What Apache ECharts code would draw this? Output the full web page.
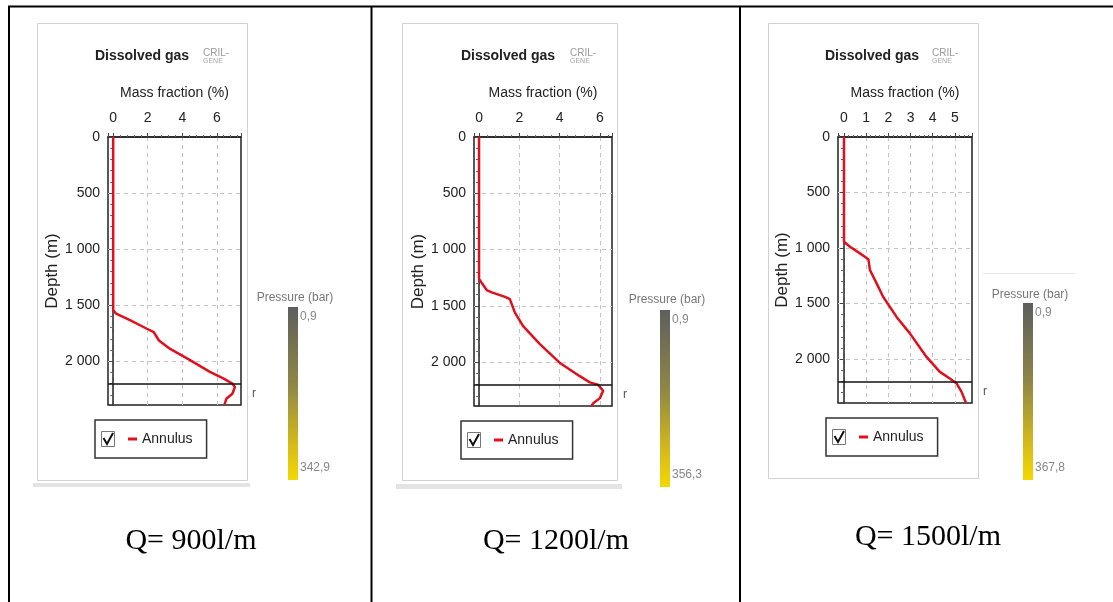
<!DOCTYPE html>
<html><head><meta charset="utf-8">
<script src="https://cdn.jsdelivr.net/npm/echarts@6/dist/echarts.min.js"></script>
<style>html,body{margin:0;padding:0;background:#fff}#c{width:1113px;height:602px}</style>
</head><body><div id="c"></div>
<script>
// ---- data ----
const captions = ['Q= 900l/m', 'Q= 1200l/m', 'Q= 1500l/m'];
const seriesName = 'Annulus';
const titleText = 'Dissolved gas';
const xName = 'Mass fraction (%)';
const yName = 'Depth (m)';
const pressureTitle = 'Pressure (bar)';

const depth1 = [0, 1545, 1575, 1635, 1710, 1740, 1815, 1890, 1990, 2095, 2155, 2200, 2230, 2290, 2335, 2385];
const mass1  = [0, 0, 0.17, 1.0, 1.95, 2.35, 2.65, 3.3, 4.45, 5.6, 6.4, 6.9, 7.05, 6.9, 6.55, 6.45];

const depth2 = [0, 1262, 1360, 1380, 1420, 1440, 1560, 1680, 1840, 2005, 2125, 2180, 2200, 2255, 2320, 2365, 2390];
const mass2  = [0, 0, 0.38, 0.63, 1.29, 1.53, 1.78, 2.19, 3.02, 4.0, 5.0, 5.5, 5.9, 6.16, 6.0, 5.67, 5.58];

const depth3 = [0, 943, 988, 1048, 1100, 1198, 1318, 1440, 1620, 1768, 1980, 2115, 2175, 2220, 2295, 2370, 2390];
const mass3  = [0, 0, 0.27, 0.72, 1.1, 1.17, 1.47, 1.77, 2.37, 2.97, 3.72, 4.32, 4.77, 5.08, 5.3, 5.45, 5.5];

const massMin = [-0.3, -0.25, -0.27];
const massMax = [7.4, 6.6, 5.77];
const depthMax = [2390, 2390, 2395];
const depthTicks = 500;
const shoeDepth = 2200;
const pressureMin = 0.9;
const pressureMax = [342.9, 356.3, 367.8];

// ---- layout ----
const panels = [
  {grid:{left:108, top:137, width:133, height:268}, box:[37,23,210,457], strip:[33,483,217,4], titleX:142, logoX:203, leg:{left:95, top:420}, cb:{x:288, y:307, h:173, tx:295, ty:298}, cap:[191,541], split:4},
  {grid:{left:474, top:137, width:138, height:269}, box:[402,23,215,457], strip:[396,484,226,5], titleX:508, logoX:570, leg:{left:461, top:421}, cb:{x:660, y:310, h:177, tx:667, ty:300}, cap:[556,541], split:4},
  {grid:{left:838, top:137, width:134, height:266}, box:[768,23,210,455], strip:null, titleX:872, logoX:932, leg:{left:826, top:418}, cb:{x:1023, y:303, h:177, tx:1030, ty:295}, cap:[928,537], split:6}
];

const depthArr = [depth1, depth2, depth3];
const massArr = [mass1, mass2, mass3];

const fmtDepth = v => v >= 1000 ? Math.floor(v/1000) + ' ' + String(v % 1000).padStart(3, '0') : String(v);
const fmtP = p => String(p).replace('.', ',');
const FONT = '"Liberation Sans", Arial, sans-serif';

const grids = [], xAxes = [], yAxes = [], series = [], legends = [], graphics = [];

// table borders
graphics.push({type:'line', shape:{x1:8, y1:6.5, x2:1113, y2:6.5}, style:{stroke:'#000', lineWidth:2}});
[9, 371.5, 740].forEach(x => graphics.push({type:'line', shape:{x1:x, y1:6, x2:x, y2:602}, style:{stroke:'#000', lineWidth:2}}));
graphics.push({type:'line', shape:{x1:983, y1:273.5, x2:1075, y2:273.5}, style:{stroke:'#e4e4e4', lineWidth:1}});

panels.forEach((p, i) => {
  grids.push(Object.assign({show:true, borderColor:'#222', borderWidth:1.5, containLabel:false}, p.grid));
  xAxes.push({
    type:'value', gridIndex:i, position:'top', min:massMin[i], max:massMax[i], splitNumber:p.split,
    name:xName, nameLocation:'middle', nameGap:37,
    nameTextStyle:{fontFamily:FONT, fontSize:14, color:'#222'},
    axisLine:{show:true, lineStyle:{color:'#222', width:1.5}},
    axisTick:{show:true, length:4, lineStyle:{color:'#444'}},
    minorTick:{show:true, splitNumber:5, length:2, lineStyle:{color:'#666'}},
    axisLabel:{fontFamily:FONT, fontSize:14, color:'#222', margin:12, showMinLabel:false, showMaxLabel:false},
    splitLine:{show:true, showMinLine:false, showMaxLine:false, lineStyle:{color:'#c4c4c4', type:[4,4]}}
  });
  yAxes.push({
    type:'value', gridIndex:i, inverse:true, min:0, max:depthMax[i], interval:depthTicks,
    name:yName, nameLocation:'middle', nameGap:47,
    nameTextStyle:{fontFamily:FONT, fontSize:17, color:'#222'},
    axisLine:{show:true, lineStyle:{color:'#222', width:1.5}},
    axisTick:{show:true, length:4, lineStyle:{color:'#444'}},
    minorTick:{show:true, splitNumber:5, length:3, lineStyle:{color:'#666'}},
    axisLabel:{fontFamily:FONT, fontSize:14, color:'#222', margin:8, showMaxLabel:false, formatter:fmtDepth},
    splitLine:{show:true, showMinLine:false, showMaxLine:false, lineStyle:{color:'#c4c4c4', type:[4,4]}}
  });
  series.push({
    type:'line', name:seriesName, xAxisIndex:i, yAxisIndex:i,
    data:massArr[i].map((m, k) => [m, depthArr[i][k]]),
    showSymbol:false, symbol:'none', smooth:false,
    lineStyle:{color:'#e0101c', width:2.5}, itemStyle:{color:'#e0101c'},
    markLine:{silent:true, symbol:'none', data:[{yAxis:shoeDepth}],
      lineStyle:{color:'#111', type:'solid', width:1.5},
      label:{show:true, position:'end', formatter:'\nr', lineHeight:20, color:'#555', fontFamily:FONT, fontSize:12, distance:11}}
  });
  legends.push({
    left:p.leg.left, top:p.leg.top, orient:'horizontal', data:[seriesName],
    icon:'rect', itemWidth:9, itemHeight:3, itemGap:5,
    borderColor:'#333', borderWidth:1.5, padding:[12,14,12,33],
    textStyle:{fontFamily:FONT, fontSize:14, color:'#222'}, selectedMode:false
  });
  // panel frame
  graphics.push({type:'rect', z:-1, shape:{x:p.box[0]+0.5, y:p.box[1]+0.5, width:p.box[2], height:p.box[3]}, style:{fill:'#fff', stroke:'#d2d2d2', lineWidth:1}});
  if (p.strip) graphics.push({type:'rect', z:-1, shape:{x:p.strip[0], y:p.strip[1], width:p.strip[2], height:p.strip[3]}, style:{fill:'#e4e4e4'}});
  // title & logo
  graphics.push({type:'text', x:p.titleX, y:56, style:{text:titleText, font:'bold 14px ' + FONT, fill:'#222', align:'center', verticalAlign:'middle'}});
  graphics.push({type:'text', x:p.logoX, y:53, style:{text:'CRIL-', font:'10px ' + FONT, fill:'#9a9a9a', align:'left', verticalAlign:'middle'}});
  graphics.push({type:'text', x:p.logoX, y:61, style:{text:'GENE', font:'7px ' + FONT, fill:'#a8a8a8', align:'left', verticalAlign:'middle'}});
  // checkbox in legend
  const lx = p.leg.left, ly = p.leg.top;
  graphics.push({type:'rect', z:20, shape:{x:lx+6.5, y:ly+11.5, width:13, height:15}, style:{fill:'#fff', stroke:'#777', lineWidth:1}});
  graphics.push({type:'polyline', z:21, shape:{points:[[lx+8.5, ly+18], [lx+12, ly+24], [lx+18, ly+13]]}, style:{stroke:'#111', lineWidth:2, fill:null}});
  // pressure colour bar
  graphics.push({type:'text', x:p.cb.tx, y:p.cb.ty, style:{text:pressureTitle, font:'12px ' + FONT, fill:'#777', align:'center', verticalAlign:'middle'}});
  graphics.push({type:'rect', shape:{x:p.cb.x, y:p.cb.y, width:10, height:p.cb.h},
    style:{fill:{type:'linear', x:0, y:0, x2:0, y2:1, colorStops:[
      {offset:0, color:'#5e5e5e'}, {offset:0.45, color:'#8f8746'}, {offset:0.8, color:'#d6bb1a'}, {offset:1, color:'#f5d800'}]}}});
  graphics.push({type:'text', x:p.cb.x + 12, y:p.cb.y + 10, style:{text:fmtP(pressureMin), font:'12px ' + FONT, fill:'#888', align:'left', verticalAlign:'middle'}});
  graphics.push({type:'text', x:p.cb.x + 12, y:p.cb.y + p.cb.h - 12, style:{text:fmtP(pressureMax[i]), font:'12px ' + FONT, fill:'#888', align:'left', verticalAlign:'middle'}});
  // caption
  graphics.push({type:'text', x:p.cap[0], y:p.cap[1], style:{text:captions[i], font:'30px "Liberation Serif", "Times New Roman", serif', fill:'#000', align:'center', verticalAlign:'middle'}});
});

const chart = echarts.init(document.getElementById('c'), null, {renderer:'canvas'});
chart.setOption({
  backgroundColor:'#fff',
  animation:false,
  grid:grids, xAxis:xAxes, yAxis:yAxes, series:series, legend:legends,
  graphic:{elements:graphics}
});
</script></body></html>
